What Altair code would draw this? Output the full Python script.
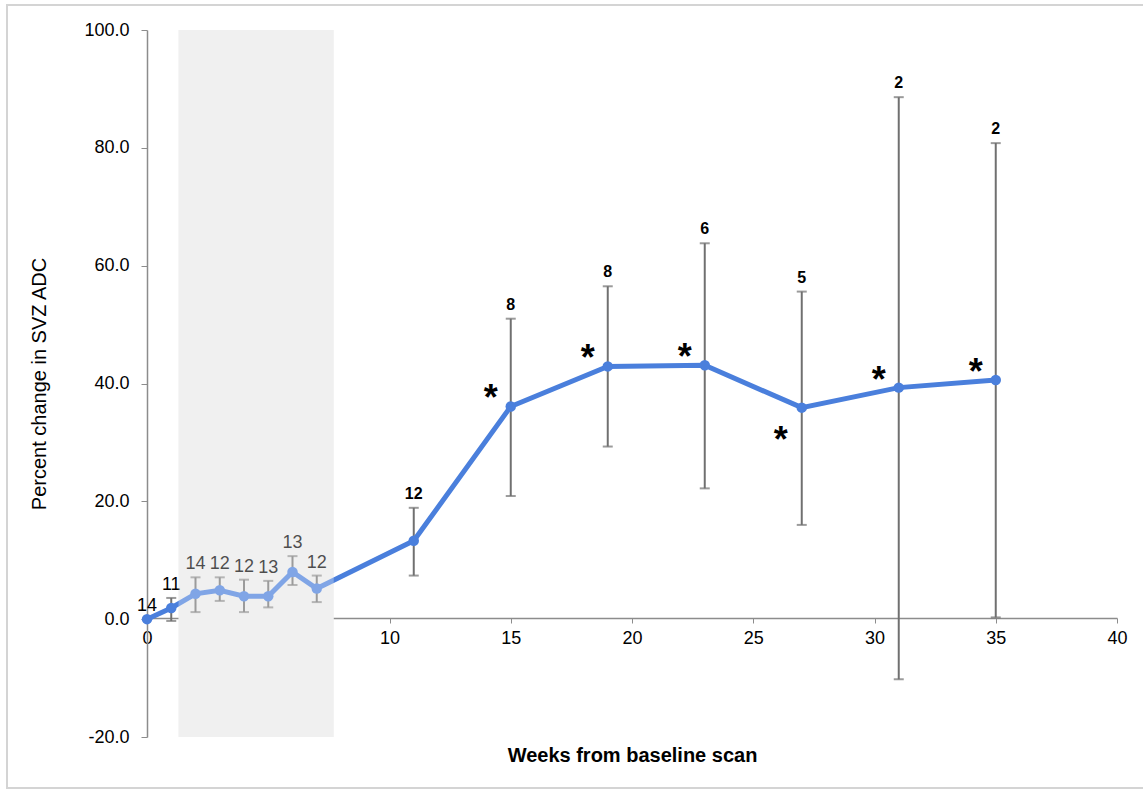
import altair as alt
import pandas as pd

weeks = [0, 1, 2, 3, 4, 5, 6, 7, 11, 15, 19, 23, 27, 31, 35]
mean_change = [0.0, 1.9, 4.3, 4.9, 3.9, 3.9, 8.0, 5.2, 13.3, 36.1, 42.9, 43.1, 35.9, 39.3, 40.6]
upper = [0.0, 3.6, 7.1, 7.1, 6.7, 6.5, 10.7, 7.4, 18.9, 51.0, 56.5, 63.8, 55.6, 88.6, 80.8]
lower = [0.0, -0.3, 1.2, 3.1, 1.2, 2.0, 5.8, 2.9, 7.4, 20.9, 29.3, 22.2, 16.0, -10.2, 0.3]
n_subjects = [14, 11, 14, 12, 12, 13, 13, 12, 12, 8, 8, 6, 5, 2, 2]
significance = ["", "", "", "", "", "", "", "", "", "above", "above", "above", "below", "above", "above"]

shade_start, shade_end = [1.3], [7.7]
y_min, y_max = -20, 100

df = pd.DataFrame({
    "week": weeks, "mean": mean_change, "upper": upper, "lower": lower,
    "n": [str(v) for v in n_subjects], "sig": significance,
})
shade = pd.DataFrame({"x": shade_start, "x2": shade_end, "y": [y_min], "y2": [y_max]})

BLUE = "#4a7fdc"
GRAY = "#707070"

xs = alt.Scale(domain=[0, 40], nice=False)
ys = alt.Scale(domain=[y_min, y_max], nice=False)

x_enc = alt.X("week:Q", scale=xs, axis=alt.Axis(
    values=[0, 5, 10, 15, 20, 25, 30, 35, 40], title="Weeks from baseline scan",
    offset=-119, grid=False, tickSize=5, labelPadding=6, titlePadding=98,
    labelFlush=False, titleFontWeight="bold"))
y_enc = alt.Y("mean:Q", scale=ys, axis=alt.Axis(
    values=[-20, 0, 20, 40, 60, 80, 100], title="Percent change in SVZ ADC",
    labelExpr="replace(format(datum.value, '.1f'), '\u2212', '-')",
    grid=False, tickSize=6, labelPadding=12, titlePadding=34, titleFontWeight="normal"))

base = alt.Chart(df)

shade_bg = alt.Chart(shade).mark_rect(color="#eaeaea").encode(
    x=alt.X("x:Q", scale=xs), x2="x2:Q", y=alt.Y("y:Q", scale=ys), y2="y2:Q")
shade_fg = alt.Chart(shade).mark_rect(color="white", opacity=0.3).encode(
    x=alt.X("x:Q", scale=xs), x2="x2:Q", y=alt.Y("y:Q", scale=ys), y2="y2:Q")

err_df = base.transform_filter("datum.upper != datum.lower")
err_rule = err_df.mark_rule(color=GRAY, strokeWidth=2).encode(
    x=alt.X("week:Q", scale=xs), y=alt.Y("lower:Q", scale=ys), y2="upper:Q")
cap_top = err_df.mark_tick(color=GRAY, orient="horizontal", size=10, thickness=2).encode(
    x=alt.X("week:Q", scale=xs), y=alt.Y("upper:Q", scale=ys))
cap_bot = err_df.mark_tick(color=GRAY, orient="horizontal", size=10, thickness=2).encode(
    x=alt.X("week:Q", scale=xs), y=alt.Y("lower:Q", scale=ys))

line = base.mark_line(color=BLUE, strokeWidth=5).encode(x=x_enc, y=y_enc)
pts = base.mark_circle(color=BLUE, size=110, opacity=1).encode(
    x=alt.X("week:Q", scale=xs), y=alt.Y("mean:Q", scale=ys))

labels_early = base.transform_filter("datum.week <= 7").mark_text(
    fontSize=18, font="Liberation Sans", color="black", baseline="alphabetic", dy=-8).encode(
    x=alt.X("week:Q", scale=xs), y=alt.Y("upper:Q", scale=ys), text="n:N")
labels_late = base.transform_filter("datum.week > 7").mark_text(
    fontSize=16, fontWeight="bold", font="Liberation Sans", color="black",
    baseline="alphabetic", dy=-9).encode(
    x=alt.X("week:Q", scale=xs), y=alt.Y("upper:Q", scale=ys), text="n:N")

star_above = base.transform_filter("datum.sig == 'above'").mark_text(
    text="*", fontSize=36, fontWeight="bold", font="Liberation Sans", color="black",
    baseline="alphabetic", dx=-20, dy=4).encode(
    x=alt.X("week:Q", scale=xs), y=alt.Y("mean:Q", scale=ys))
star_below = base.transform_filter("datum.sig == 'below'").mark_text(
    text="*", fontSize=36, fontWeight="bold", font="Liberation Sans", color="black",
    baseline="alphabetic", dx=-21, dy=44).encode(
    x=alt.X("week:Q", scale=xs), y=alt.Y("mean:Q", scale=ys))

frame = alt.Chart(pd.DataFrame({"f": [0]})).mark_rect(
    fill=None, stroke="#d4d4d4", strokeWidth=2).encode(
    x=alt.value(-140), x2=alt.value(1000), y=alt.value(-25), y2=alt.value(758))

chart = alt.layer(
    shade_bg, err_rule, cap_top, cap_bot, line, pts, labels_early, labels_late,
    shade_fg, star_above, star_below, frame
).properties(
    width=970, height=707,
    autosize=alt.AutoSizeParams(type="none"),
    padding={"left": 147, "top": 30, "right": 26, "bottom": 54},
).configure(background="white").configure_view(stroke=None).configure_axis(
    labelFont="Liberation Sans", titleFont="Liberation Sans",
    labelFontSize=18, titleFontSize=20, labelColor="black", titleColor="black",
    domainColor="#8c8c8c", tickColor="#8c8c8c", domainWidth=1.5,
)

chart.save("out.html", embed_options={"renderer": "svg", "actions": False})
